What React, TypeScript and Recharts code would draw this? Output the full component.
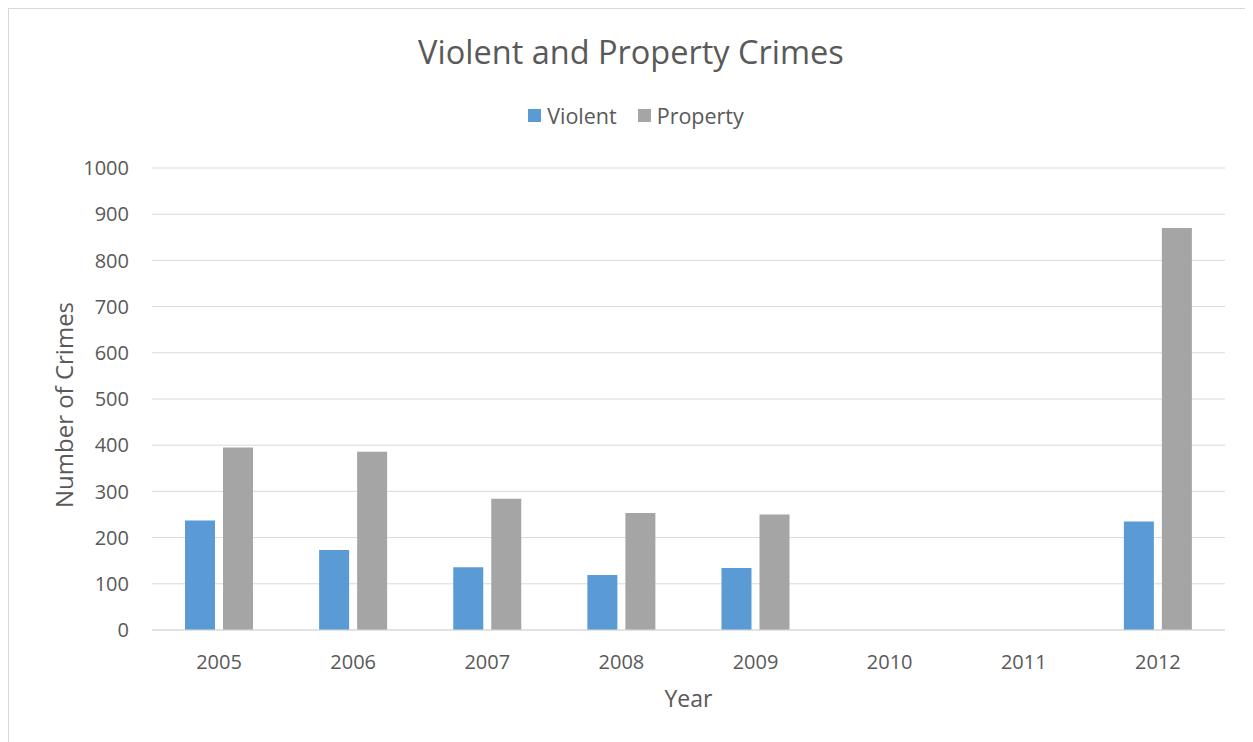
import React from 'react';
import { BarChart, Bar, XAxis, YAxis, CartesianGrid, Legend } from 'recharts';

const years = ['2005', '2006', '2007', '2008', '2009', '2010', '2011', '2012'];
const violent = [237, 173, 136, 119, 134, null, null, 235];
const property = [395, 386, 284, 253, 250, null, null, 870];
const yTicks = [0, 100, 200, 300, 400, 500, 600, 700, 800, 900, 1000];

const series = [
    { key: 'violent', name: 'Violent', color: '#5B9BD5' },
    { key: 'property', name: 'Property', color: '#A5A5A5' },
];

const FONT = '"Open Sans", sans-serif';
const TEXT = '#595959';

const renderLegend = () => (
    <div style={{ display: 'flex', justifyContent: 'center', fontFamily: FONT, fontSize: 21.5, lineHeight: '21.5px', color: TEXT }}>
        {series.map((s, i) => (
            <div key={s.key} style={{ display: 'flex', alignItems: 'center', marginLeft: i === 0 ? 0 : 21 }}>
                <span style={{ display: 'inline-block', width: 13, height: 13, background: s.color, marginRight: 6 }} />
                <span>{s.name}</span>
            </div>
        ))}
    </div>
);

const YLabel = (props: any) => {
    const vb = props.viewBox || { y: 159, height: 462 };
    const cy = vb.y + vb.height / 2 + 6;
    return (
        <text x={64} y={cy} transform={`rotate(-90 64 ${cy})`} textAnchor="middle" fill={TEXT} fontSize={24} fontFamily={FONT}>
            Number of Crimes
        </text>
    );
};

const App: React.FC = () => {
    const data = years.map((y, i) => ({ year: y, violent: violent[i], property: property[i] }));

    return (
        <div style={{ position: 'relative', width: 1244, height: 733, borderTop: '1px solid #d9d9d9', borderLeft: '1px solid #d9d9d9', background: '#fff', overflow: 'hidden' }}>
            <div style={{ position: 'absolute', top: 27, left: 0, width: 1244, textAlign: 'center', fontFamily: FONT, fontSize: 32.5, lineHeight: '32.5px', color: TEXT }}>
                Violent and Property Crimes
            </div>
            <BarChart width={1244} height={733} data={data} margin={{ top: 159, right: 28, left: 0, bottom: 32 }} barSize={30} barGap={8}>
                <CartesianGrid vertical={false} stroke="#d9d9d9" strokeWidth={1} />
                <XAxis
                    dataKey="year"
                    height={80}
                    axisLine={{ stroke: '#d9d9d9' }}
                    tickLine={false}
                    tickSize={0}
                    tickMargin={25}
                    tick={{ fill: TEXT, fontSize: 20, fontFamily: FONT }}
                    label={{ value: 'Year', position: 'insideBottom', offset: 3, fill: TEXT, fontSize: 23, fontFamily: FONT }}
                />
                <YAxis
                    width={143}
                    domain={[0, 1000]}
                    ticks={yTicks}
                    interval={0}
                    axisLine={false}
                    tickLine={false}
                    tickSize={0}
                    tickMargin={23}
                    tick={{ fill: TEXT, fontSize: 20, fontFamily: FONT }}
                    label={<YLabel />}
                />
                <Legend verticalAlign="middle" align="center" layout="horizontal" content={renderLegend} wrapperStyle={{ top: 96, left: 5, width: 1244 }} />
                {series.map(s => (
                    <Bar key={s.key} dataKey={s.key} name={s.name} fill={s.color} isAnimationActive={false} />
                ))}
            </BarChart>
        </div>
    );
};

export default App;
